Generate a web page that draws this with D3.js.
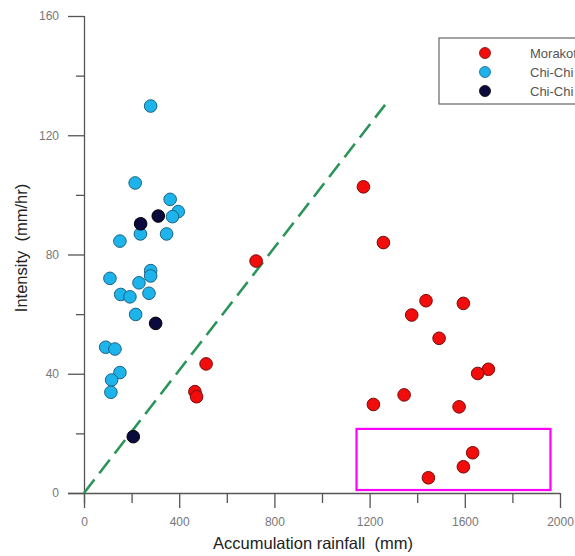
<!DOCTYPE html>
<html>
<head>
<meta charset="utf-8">
<script src="https://cdn.jsdelivr.net/npm/d3@7"></script>
<style>
  body { margin: 0; background: #fff; overflow: hidden; }
  svg { font-family: Arial, "Liberation Sans", sans-serif; }
  .title { white-space: pre; }
</style>
</head>
<body>
<div class="d3"></div>
<script>
// Morakot event [rainfall mm, intensity mm/hr]
const morakot = [
  [1174, 102.7], [1258, 84], [723, 77.8], [1437, 64.5], [1594, 63.6],
  [1377, 59.7], [1492, 51.9], [513, 43.3], [1699, 41.5], [1654, 40.1],
  [466, 34], [473, 32.3], [1345, 32.9], [1216, 29.7], [1576, 28.9],
  [1633, 13.5], [1594, 8.8], [1447, 5.1]
];
const chichiA = [
  [280, 129.8], [215, 104], [362, 98.5], [396, 94.4], [372, 92.7],
  [237, 86.9], [347, 86.9], [151, 84.5], [280, 74.6], [280, 72.8],
  [109, 72], [231, 70.5], [273, 67], [154, 66.6], [193, 65.8],
  [217, 59.9], [91, 48.9], [130, 48.3], [151, 40.4], [116, 37.9],
  [113, 33.8]
];
const chichiB = [
  [312, 92.9], [238, 90.3], [301, 56.9], [207, 18.9]
];
const seriesNames = ['Morakot', 'Chi-Chi (before)', 'Chi-Chi (after)'];
const seriesFill = ['#f20d0d', '#1cb4ea', '#0a0b3c'];
const seriesStroke = ['#7a0a0a', '#1c6384', '#000000'];
const threshold = [[0, 0], [1265, 130.2]];
const highlight = [[1145, 1], [1960, 21.5]];
const xTicks = [0, 400, 800, 1200, 1600, 2000];
const xMinor = [200, 600, 1000, 1400, 1800];
const yTicks = [0, 40, 80, 120, 160];
const yMinor = [20, 60, 100, 140];

let width = 575;
let height = 556;

let svg = d3.select('.d3').append('svg')
  .attr('width', width)
  .attr('height', height);

let x = d3.scaleLinear().domain([0, 2000]).range([84, 560]);
let y = d3.scaleLinear().domain([0, 160]).range([493, 16]);

// minor ticks
svg.append('g')
  .attr('transform', 'translate(0,' + y(0) + ')')
  .call(d3.axisBottom(x).tickValues(xMinor).tickSize(10).tickFormat(''))
  .call(g => g.select('.domain').remove());
svg.append('g')
  .attr('transform', 'translate(' + x(0) + ',0)')
  .call(d3.axisLeft(y).tickValues(yMinor).tickSize(8).tickFormat(''))
  .call(g => g.select('.domain').remove());

let xAxis = svg.append('g')
  .attr('transform', 'translate(0,' + y(0) + ')')
  .call(d3.axisBottom(x).tickValues(xTicks).tickSize(15).tickSizeOuter(0).tickPadding(9).tickFormat(d3.format('d')));
let yAxis = svg.append('g')
  .attr('transform', 'translate(' + x(0) + ',0)')
  .call(d3.axisLeft(y).tickValues(yTicks).tickSize(16).tickSizeOuter(0).tickPadding(9).tickFormat(d3.format('d')));

xAxis.select('.domain').attr('d', 'M' + (x(0) - 16) + ',0.5H' + x(2000));
yAxis.select('.domain').attr('d', 'M0.5,' + y(160) + 'V' + (y(0) + 10));

svg.selectAll('.tick line').attr('stroke', '#555').attr('stroke-width', 1.3);
svg.selectAll('.domain').attr('stroke', '#555').attr('stroke-width', 1.3);
svg.selectAll('.tick text').attr('fill', '#777').attr('font-size', 12);

// axis titles
svg.append('text')
  .attr('class', 'title')
  .attr('x', 313).attr('y', 549)
  .attr('text-anchor', 'middle')
  .attr('font-size', 16.5)
  .attr('fill', '#222')
  .text('Accumulation rainfall  (mm)');
svg.append('text')
  .attr('class', 'title')
  .attr('transform', 'translate(27,248) rotate(-90)')
  .attr('text-anchor', 'middle')
  .attr('font-size', 16.5)
  .attr('fill', '#222')
  .text('Intensity  (mm/hr)');

// threshold line
svg.append('line')
  .attr('x1', x(threshold[0][0])).attr('y1', y(threshold[0][1]))
  .attr('x2', x(threshold[1][0])).attr('y2', y(threshold[1][1]))
  .attr('stroke', '#2a9459')
  .attr('stroke-width', 2.6)
  .attr('stroke-dasharray', '17,8');

// highlight box
svg.append('rect')
  .attr('x', x(highlight[0][0]))
  .attr('y', y(highlight[1][1]))
  .attr('width', x(highlight[1][0]) - x(highlight[0][0]))
  .attr('height', y(highlight[0][1]) - y(highlight[1][1]))
  .attr('fill', 'none')
  .attr('stroke', '#ff00ff')
  .attr('stroke-width', 2.2);

// points
[chichiA, morakot, chichiB].forEach(function(data) {
  let i = data === morakot ? 0 : data === chichiA ? 1 : 2;
  svg.append('g').selectAll('circle')
    .data(data)
    .enter()
    .append('circle')
    .attr('cx', d => x(d[0]))
    .attr('cy', d => y(d[1]))
    .attr('r', 6.3)
    .attr('fill', seriesFill[i])
    .attr('stroke', seriesStroke[i])
    .attr('stroke-width', 1);
});

// legend
let legend = svg.append('g');
legend.append('rect')
  .attr('x', 439).attr('y', 38)
  .attr('width', 200).attr('height', 66)
  .attr('fill', '#fff')
  .attr('stroke', '#666')
  .attr('stroke-width', 1.2);
let item = legend.selectAll('g.item')
  .data(seriesNames)
  .enter()
  .append('g')
  .attr('class', 'item')
  .attr('transform', (d, i) => 'translate(0,' + (53 + i * 19) + ')');
item.append('circle')
  .attr('cx', 485).attr('cy', 0).attr('r', 5.5)
  .attr('fill', (d, i) => seriesFill[i])
  .attr('stroke', (d, i) => seriesStroke[i])
  .attr('stroke-width', 0.8);
item.append('text')
  .attr('x', 530).attr('y', 4.5)
  .attr('font-size', 13)
  .attr('fill', '#555')
  .text(d => d);
</script>
</body>
</html>
